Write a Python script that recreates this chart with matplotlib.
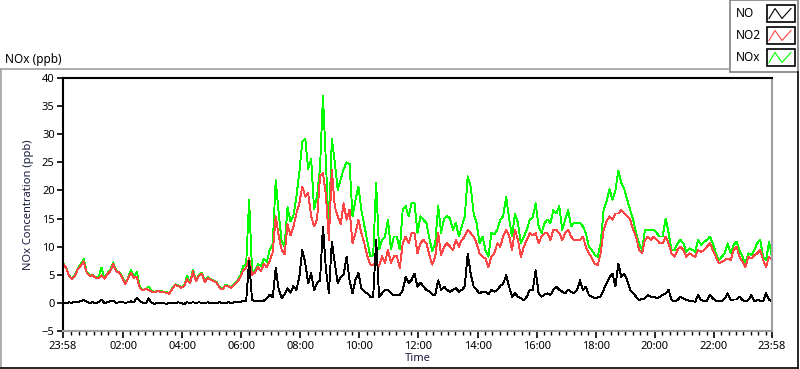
import matplotlib
matplotlib.use("Agg")
import matplotlib.pyplot as plt
import matplotlib.dates as mdates
from matplotlib.lines import Line2D
from matplotlib.patches import Rectangle
import pandas as pd

plt.rcParams['font.family'] = ['Noto Sans', 'DejaVu Sans']

# 6-minute samples from 23:58 to 23:58 next day (241 points)
times = pd.date_range("2020-01-01 23:58", "2020-01-02 23:58", freq="6min")

no = [0.0, -0.1, 0.1, 0.0, 0.2, 0.1, 0.3, 0.5, 0.2, 0.0,
      0.1, 0.0, 0.1, 0.6, 0.0, 0.1, 0.3, 0.4, 0.0, 0.1,
      0.2, 0.0, 0.1, 0.3, 0.1, 0.9, 0.3, 0.0, -0.1, 0.8,
      0.0, -0.2, 0.0, -0.1, 0.0, -0.2, 0.0, -0.1, 0.0, 0.1,
      0.0, -0.2, 0.1, 0.0, 0.1, 0.0, 0.1, 0.0, 0.0, 0.1,
      0.0, -0.1, 0.0, 0.1, 0.0, 0.0, 0.1, 0.0, 0.1, 0.2,
      0.1, 0.4, 0.3, 7.5, 0.5, 0.3, 0.4, 0.3, 0.4, 0.8,
      1.5, 1.0, 6.2, 2.5, 0.8, 1.5, 2.6, 1.8, 3.0, 2.3,
      4.6, 9.4, 7.1, 3.5, 5.3, 2.3, 3.5, 4.0, 13.6, 5.9,
      1.8, 10.9, 7.1, 3.5, 4.6, 5.0, 8.2, 4.0, 1.7, 4.1,
      5.3, 2.6, 2.0, 1.7, 1.1, 1.1, 11.2, 1.1, 1.7, 2.3,
      2.3, 1.7, 1.4, 1.4, 1.4, 2.3, 4.6, 3.5, 4.1, 5.2,
      2.9, 3.6, 2.9, 2.3, 2.0, 1.5, 1.4, 4.0, 2.3, 2.9,
      2.3, 2.0, 2.3, 2.6, 2.0, 2.3, 2.9, 8.8, 5.2, 2.9,
      2.3, 1.7, 2.0, 2.0, 1.5, 2.3, 2.0, 2.3, 3.0, 3.4,
      4.9, 2.9, 1.1, 1.7, 1.1, 0.8, 0.5, 1.1, 2.3, 2.3,
      5.8, 1.7, 1.1, 1.5, 1.7, 1.4, 2.3, 2.9, 2.3, 2.0,
      1.7, 2.3, 2.0, 1.7, 2.3, 4.0, 2.3, 2.9, 1.4, 1.1,
      0.8, 1.0, 1.1, 2.3, 3.5, 4.6, 5.2, 2.9, 7.0, 4.6,
      5.2, 4.0, 2.3, 1.7, 1.1, 0.5, 0.7, 0.8, 1.4, 1.1,
      1.1, 0.8, 1.1, 1.4, 1.7, 2.3, 0.5, 0.3, 0.5, 1.1,
      0.8, 0.5, 0.4, 0.3, 0.2, 1.4, 0.5, 0.3, 0.4, 1.4,
      0.8, 0.4, 0.3, 0.3, 0.8, 1.7, 0.5, 0.6, 0.6, 1.1,
      0.5, 0.3, 0.5, 1.4, 0.3, 0.5, 0.4, 0.3, 1.7, 0.5,
      0.3]

no2 = [6.9, 6.3, 4.8, 4.2, 4.8, 6.0, 6.6, 7.4, 5.4, 4.8,
       4.9, 4.5, 4.4, 4.9, 4.3, 5.1, 5.6, 6.9, 5.6, 5.4,
       4.6, 3.3, 4.3, 5.3, 4.5, 4.6, 2.6, 2.2, 2.5, 2.3,
       2.0, 1.9, 2.1, 2.0, 1.9, 1.8, 1.6, 2.5, 3.2, 3.0,
       2.7, 3.0, 4.2, 3.5, 5.6, 3.8, 4.8, 5.2, 3.7, 4.4,
       4.1, 3.9, 3.6, 2.7, 2.4, 3.1, 2.9, 2.7, 3.3, 3.8,
       4.5, 5.8, 6.2, 8.0, 5.0, 5.4, 6.4, 5.6, 7.0, 6.3,
       7.5, 9.0, 15.4, 12.0, 9.5, 8.6, 14.0, 12.0, 13.5, 15.9,
       17.7, 20.7, 18.9, 19.5, 15.4, 13.6, 14.8, 22.5, 23.1, 19.2,
       11.2, 23.7, 17.1, 15.4, 14.0, 17.7, 14.8, 16.6, 10.6, 12.4,
       14.8, 12.4, 10.6, 8.3, 6.8, 6.8, 7.1, 6.5, 8.3, 7.1,
       9.5, 7.1, 8.3, 8.3, 6.2, 10.6, 11.8, 10.6, 12.4, 12.4,
       8.8, 10.6, 11.2, 10.6, 8.5, 6.8, 8.2, 12.4, 8.5, 10.0,
       10.6, 10.0, 9.4, 11.2, 10.0, 11.2, 11.8, 13.0, 12.4, 11.8,
       10.6, 8.8, 8.2, 7.9, 6.4, 8.2, 8.8, 10.6, 10.0, 11.8,
       13.0, 12.0, 9.4, 13.0, 11.2, 8.2, 10.0, 11.2, 12.4, 12.0,
       12.4, 10.6, 11.8, 12.4, 12.4, 11.2, 13.0, 13.0, 12.4, 11.2,
       12.4, 13.0, 11.8, 11.2, 11.2, 11.2, 11.8, 10.0, 8.8, 8.0,
       7.0, 6.7, 8.8, 13.0, 14.5, 15.4, 14.8, 15.9, 15.9, 16.5,
       15.9, 15.4, 14.8, 13.0, 11.8, 9.4, 8.8, 11.2, 11.8, 11.2,
       11.8, 11.2, 10.6, 10.6, 11.8, 10.6, 8.8, 8.2, 9.4, 10.0,
       9.4, 8.2, 8.8, 8.5, 8.2, 9.4, 9.1, 9.4, 10.0, 10.6,
       9.4, 8.2, 7.0, 7.3, 7.6, 7.9, 7.6, 9.4, 10.0, 8.2,
       7.3, 6.4, 8.2, 7.9, 8.5, 8.8, 9.4, 7.6, 6.4, 8.2,
       7.6]

nox = [7.0, 6.4, 4.9, 4.3, 5.0, 6.1, 6.9, 7.8, 5.6, 4.9,
       5.0, 4.6, 4.5, 6.3, 4.4, 5.2, 5.9, 7.2, 5.7, 5.5,
       4.8, 3.4, 4.4, 5.9, 4.6, 5.5, 2.9, 2.3, 2.5, 2.9,
       2.1, 2.0, 2.2, 2.1, 2.0, 1.9, 1.7, 2.6, 3.3, 3.1,
       2.8, 3.1, 4.8, 3.6, 5.9, 3.9, 5.0, 5.4, 3.8, 4.6,
       4.2, 4.0, 3.7, 2.8, 2.5, 3.2, 3.0, 2.8, 3.4, 4.0,
       4.8, 6.5, 6.8, 18.4, 5.6, 5.8, 6.9, 6.6, 7.8, 7.3,
       9.5, 10.5, 21.8, 16.0, 11.0, 10.0, 17.0, 14.5, 15.5, 18.9,
       23.2, 28.6, 29.2, 23.8, 25.6, 16.6, 19.0, 24.0, 36.8, 25.0,
       12.5, 29.2, 25.0, 20.1, 22.0, 23.8, 25.0, 24.7, 15.4, 18.3,
       20.7, 16.5, 13.8, 11.2, 8.3, 8.5, 21.3, 9.5, 11.2, 11.8,
       14.8, 9.5, 11.8, 11.8, 9.5, 16.6, 17.2, 15.4, 17.7, 17.7,
       12.4, 15.4, 14.8, 14.2, 11.5, 9.2, 10.6, 17.2, 12.5, 15.0,
       15.5, 15.0, 13.0, 14.2, 11.8, 13.6, 15.4, 22.5, 20.7, 15.9,
       14.2, 10.6, 11.8, 9.4, 8.2, 12.4, 12.2, 13.0, 14.8, 15.4,
       18.9, 15.0, 11.8, 15.9, 14.2, 10.6, 11.8, 13.0, 14.8, 15.2,
       17.7, 13.6, 12.4, 14.2, 14.8, 14.2, 16.5, 15.9, 17.2, 13.0,
       14.8, 16.5, 13.6, 14.2, 14.2, 14.2, 13.6, 12.4, 10.0, 9.4,
       8.5, 8.2, 10.6, 16.5, 18.0, 20.2, 18.3, 20.0, 23.5, 21.3,
       20.2, 18.3, 16.5, 14.8, 12.4, 10.6, 9.4, 13.0, 13.0, 13.0,
       13.0, 12.4, 11.8, 11.8, 15.0, 12.4, 9.4, 9.4, 10.6, 11.2,
       10.6, 9.1, 9.7, 9.4, 9.1, 11.2, 10.3, 10.9, 11.2, 11.8,
       10.6, 8.8, 7.6, 8.2, 8.8, 10.6, 8.8, 10.3, 10.9, 9.4,
       8.2, 7.0, 8.8, 8.5, 9.4, 10.6, 11.2, 8.2, 7.6, 10.9,
       8.2]

series_names = ["NO", "NO2", "NOx"]
series_colors = ["#000000", "#ff4646", "#00ff00"]

W, H = 800, 369
fig = plt.figure(figsize=(W / 100, H / 100), dpi=100)
fig.patch.set_facecolor("white")

def fx(px):
    return px / W

def fy(py):
    return 1 - py / H

# sunken outer panel
fig.add_artist(Line2D([fx(1), fx(730)], [fy(69), fy(69)], color="#a0a0a0", lw=1.2))
fig.add_artist(Line2D([fx(1), fx(1)], [fy(69), fy(368)], color="#a0a0a0", lw=1.2))
fig.add_artist(Line2D([fx(1), fx(798)], [fy(367.5), fy(367.5)], color="black", lw=1.2))
fig.add_artist(Line2D([fx(797.5), fx(797.5)], [fy(72), fy(368)], color="black", lw=1.2))

fig.text(fx(5), fy(59), "NOx (ppb)", fontsize=8.5, ha="left", va="center")

ax = fig.add_axes([fx(63), fy(331), fx(772) - fx(63), fy(78) - fy(331)])

# draw NOx first so NO2 and NO sit on top
ax.plot(times, nox, color=series_colors[2], lw=0.65, antialiased=False)
ax.plot(times, no2, color=series_colors[1], lw=0.65, antialiased=False)
ax.plot(times, no, color=series_colors[0], lw=0.65, antialiased=False)

ax.set_xlim(times[0], times[-1])
ax.set_ylim(-5, 40)
ax.set_yticks(range(-5, 41, 5))

major = [times[0]] + list(pd.date_range("2020-01-02 02:00", "2020-01-02 22:00", freq="2h")) + [times[-1]]
minor = pd.date_range("2020-01-02 00:15", "2020-01-02 23:45", freq="15min")
ax.set_xticks(major)
ax.set_xticks(minor, minor=True)
ax.xaxis.set_major_formatter(mdates.DateFormatter("%H:%M"))

ax.tick_params(axis="both", which="major", length=5, width=1.2, labelsize=8, pad=2, colors="black")
ax.tick_params(axis="x", which="minor", length=3, width=1)
ax.tick_params(axis="y", which="major", length=4)

for side in ["left", "top"]:
    ax.spines[side].set_color("black")
    ax.spines[side].set_linewidth(1.5)
for side in ["right", "bottom"]:
    ax.spines[side].set_color("#a0a0a0")
    ax.spines[side].set_linewidth(1.5)

ax.set_xlabel("Time", fontsize=8, color="#1a1a40", labelpad=1)
ax.set_ylabel("NOx Concentration (ppb)", fontsize=8, color="#1a1a40", labelpad=6)

# legend panel
fig.add_artist(Rectangle((fx(730), fy(72)), fx(798) - fx(730), fy(0) - fy(72),
                         facecolor="white", edgecolor="#808080", lw=1.2))
row_y = [13.5, 35.5, 57.5]
for name, color, cy in zip(series_names, series_colors, row_y):
    fig.text(fx(736), fy(cy), name, fontsize=8.5, ha="left", va="center")
    fig.add_artist(Rectangle((fx(767), fy(cy + 8.5)), fx(795) - fx(767), fy(cy - 8.5) - fy(cy + 8.5),
                             facecolor="white", edgecolor="black", lw=1.2))
    zx = [769, 775, 782, 791]
    zy = [cy + 5, cy - 5, cy + 5, cy - 5]
    fig.add_artist(Line2D([fx(v) for v in zx], [fy(v) for v in zy], color=color, lw=0.8))

fig.savefig("out.png", dpi=100)
